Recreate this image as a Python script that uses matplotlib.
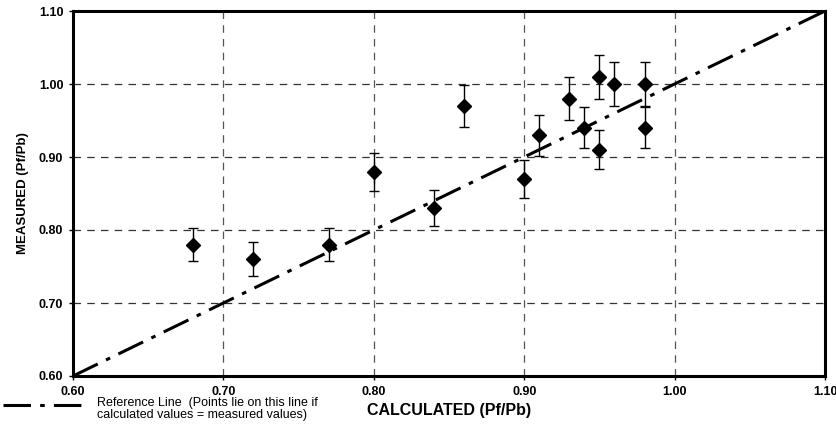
import matplotlib
matplotlib.use("Agg")
import matplotlib.pyplot as plt
from matplotlib.lines import Line2D

plt.rcParams['font.family'] = ['Liberation Sans', 'DejaVu Sans']

calculated = [0.68, 0.72, 0.77, 0.80, 0.84, 0.86, 0.90, 0.91, 0.93, 0.94, 0.95, 0.95, 0.96, 0.98, 0.98]
measured   = [0.78, 0.76, 0.78, 0.88, 0.83, 0.97, 0.87, 0.93, 0.98, 0.94, 1.01, 0.91, 1.00, 1.00, 0.94]
errors     = [0.023, 0.023, 0.023, 0.026, 0.025, 0.029, 0.026, 0.028, 0.029, 0.028, 0.030, 0.027, 0.030, 0.030, 0.028]
ref_line = [0.60, 1.10]
ticks = [0.60, 0.70, 0.80, 0.90, 1.00, 1.10]
tick_labels = ["0.60", "0.70", "0.80", "0.90", "1.00", "1.10"]

fig = plt.figure(figsize=(8.37, 4.30), dpi=100)
ax = fig.add_axes([73/837, 1-376/430, (825-73)/837, (376-11)/430])

ax.plot(ref_line, ref_line, color='black', lw=2.2, dashes=(9, 3, 1.5, 3), zorder=2)
ax.errorbar(calculated, measured, yerr=errors, fmt='D', color='black', ms=7.5,
            ecolor='black', elinewidth=1.0, capsize=3.5, capthick=1.0, zorder=3)

ax.set_xlim(0.60, 1.10)
ax.set_ylim(0.60, 1.10)
ax.set_xticks(ticks)
ax.set_xticklabels(tick_labels, fontweight='bold', fontsize=9)
ax.set_yticks(ticks)
ax.set_yticklabels(tick_labels, fontweight='bold', fontsize=9)
ax.tick_params(direction='out', length=3, width=1)
ax.tick_params(axis='x', pad=4.5)
ax.tick_params(axis='y', pad=4)

for v in ticks[1:-1]:
    ax.axvline(v, color='#555555', lw=0.9, dashes=(6, 5), zorder=1)
    ax.axhline(v, color='#333333', lw=0.9, dashes=(6, 5), zorder=1)

for s in ax.spines.values():
    s.set_linewidth(2.2)

ax.set_xlabel("CALCULATED (Pf/Pb)", fontweight='bold', fontsize=11.5, labelpad=3)
ax.set_ylabel("MEASURED (Pf/Pb)", fontweight='bold', fontsize=9.5, labelpad=7)

leg_line = Line2D([3/837, 83/837], [1-405/430, 1-405/430], transform=fig.transFigure,
                  color='black', lw=2.2, dashes=(9, 3, 1.5, 3))
fig.add_artist(leg_line)
fig.text(97/837, 1-409/430, "Reference Line  (Points lie on this line if\ncalculated values = measured values)",
         fontsize=9.0, va='center', ha='left', linespacing=0.95)

fig.savefig("out.png", dpi=100)
